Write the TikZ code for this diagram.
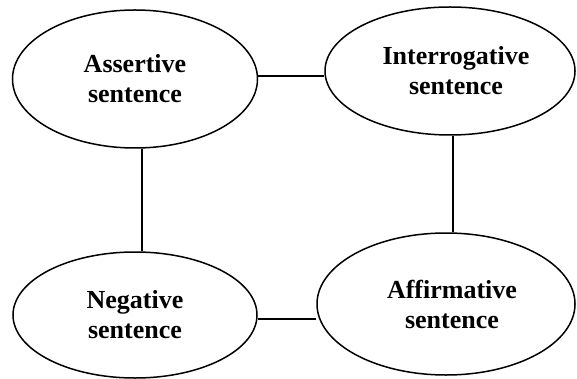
\documentclass[tikz,border=0pt]{standalone}
\usepackage{fontspec}
\setmainfont{Liberation Serif}
\usetikzlibrary{shapes.geometric}
\begin{document}
\begin{tikzpicture}[x=1pt,y=-1pt,
  oval/.style={ellipse,draw,line width=1.5pt,inner sep=0pt,align=center,
    font=\bfseries\fontsize{26}{30}\selectfont},
  link/.style={line width=1.5pt}]
\useasboundingbox (0,0) rectangle (577,379);
\node[oval,minimum width=245pt,minimum height=138pt] (a) at (135,79) {Assertive\\sentence};
\node[oval,minimum width=250pt,minimum height=128pt] (b) at (450,71) {\hspace*{12pt}Interrogative\\\hspace*{12pt}sentence};
\node[oval,minimum width=244pt,minimum height=126pt] (c) at (135,315) {Negative\\sentence};
\node[oval,minimum width=258pt,minimum height=142pt] (d) at (446,304) {\hspace*{12pt}Affirmative\\\hspace*{12pt}sentence};
\draw[link] ([yshift=3pt]a.east) -- ([yshift=3pt]a.east -| b.west);
\draw[link] ([xshift=7pt]a.south) -- ([xshift=7pt]c.north);
\draw[link] ([xshift=3pt]b.south) -- ([xshift=3pt]b.south |- d.north);
\draw[link] ([yshift=-4pt]c.east) -- ([yshift=-4pt]c.east -| d.west);
\end{tikzpicture}
\end{document}
